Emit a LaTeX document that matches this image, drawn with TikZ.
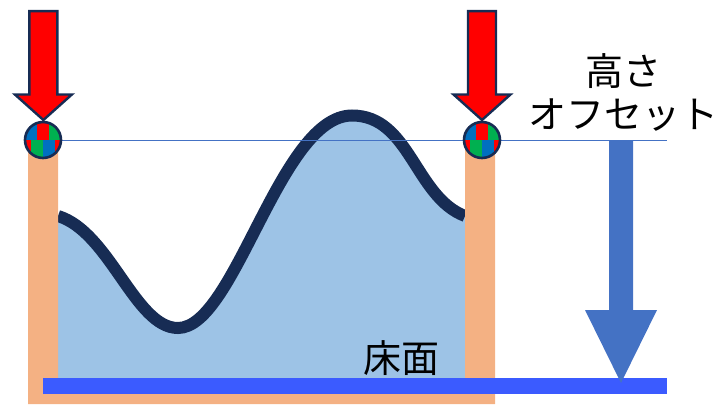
\documentclass[tikz,border=0pt]{standalone}
\usepackage{fontspec}
\setmainfont{Noto Sans CJK JP}
\definecolor{wallc}{HTML}{F4B183}
\definecolor{waterc}{HTML}{9DC3E6}
\definecolor{navyc}{HTML}{172C54}
\definecolor{floorc}{HTML}{3B5BFF}
\definecolor{arrowc}{HTML}{4472C4}
\definecolor{gridred}{HTML}{FF0000}
\definecolor{gridgreen}{HTML}{00B050}
\definecolor{gridblue}{HTML}{0070C0}
\tikzset{
  redarrow/.style={fill=red,draw=navyc,line width=2.4pt,line join=miter},
  labeltext/.style={font=\fontsize{38}{42}\selectfont,inner sep=0pt,text=black},
}
\newcommand{\sensor}[1]{%
  \begin{scope}[shift={(#1,140)}]
    \begin{scope}
      \clip (0,0) circle[radius=18];
      \fill[gridblue] (-19,-19) rectangle (-6,0);
      \fill[gridred] (-6,-19) rectangle (6,0);
      \fill[gridgreen] (6,-19) rectangle (19,0);
      \fill[gridred] (-19,0) rectangle (-12,19);
      \fill[gridgreen] (-12,0) rectangle (0,19);
      \fill[gridblue] (0,0) rectangle (12,19);
      \fill[gridred] (12,0) rectangle (19,19);
    \end{scope}
    \draw[navyc,line width=2.6pt] (0,0) circle[radius=18];
  \end{scope}}
\newcommand{\downarrowshape}[1]{%
  \draw[redarrow,shift={(#1,0)}] (-14,11.2) -- (14,11.2) -- (14,94.5) -- (28.5,94.5) -- (0,120) -- (-28.5,94.5) -- (-14,94.5) -- cycle;}
\begin{document}
\begin{tikzpicture}[x=1pt,y=-1pt]
  \useasboundingbox (0,0) rectangle (717,404);
  % water body
  \fill[waterc] (58,216) .. controls (110,232) and (135,328) .. (178,328)
     .. controls (235,328) and (280,115.5) .. (352,115.5)
     .. controls (410,115.5) and (415,197) .. (465,216) -- (465,380) -- (58,380) -- cycle;
  \begin{scope}
    \clip (58,0) rectangle (465,404);
    \draw[navyc,line width=12pt] (58,216) .. controls (110,232) and (135,328) .. (178,328)
     .. controls (235,328) and (280,115.5) .. (352,115.5)
     .. controls (410,115.5) and (415,197) .. (465,216);
  \end{scope}
  % walls
  \fill[wallc] (28,140) -- (58,140) -- (58,378) -- (465,378) -- (465,140) -- (495,140) -- (495,404) -- (28,404) -- cycle;
  % floor
  \fill[floorc] (43,378) rectangle (667,394);
  % height line
  \draw[arrowc,line width=1.3pt] (43,140.5) -- (667,140.5);
  % offset arrow
  \fill[arrowc] (609,141) -- (633,141) -- (633,310) -- (657,310) -- (621,383) -- (585,310) -- (609,310) -- cycle;
  % markers
  \sensor{43}
  \sensor{482}
  \downarrowshape{43.4}
  \downarrowshape{482}
  % labels
  \node[labeltext] (takasa) at (623,71) {高さ};
  \node[labeltext] (offset) at (623,115.5) {オフセット};
  \node[labeltext] (yuka) at (401,358) {床面};
\end{tikzpicture}
\end{document}
